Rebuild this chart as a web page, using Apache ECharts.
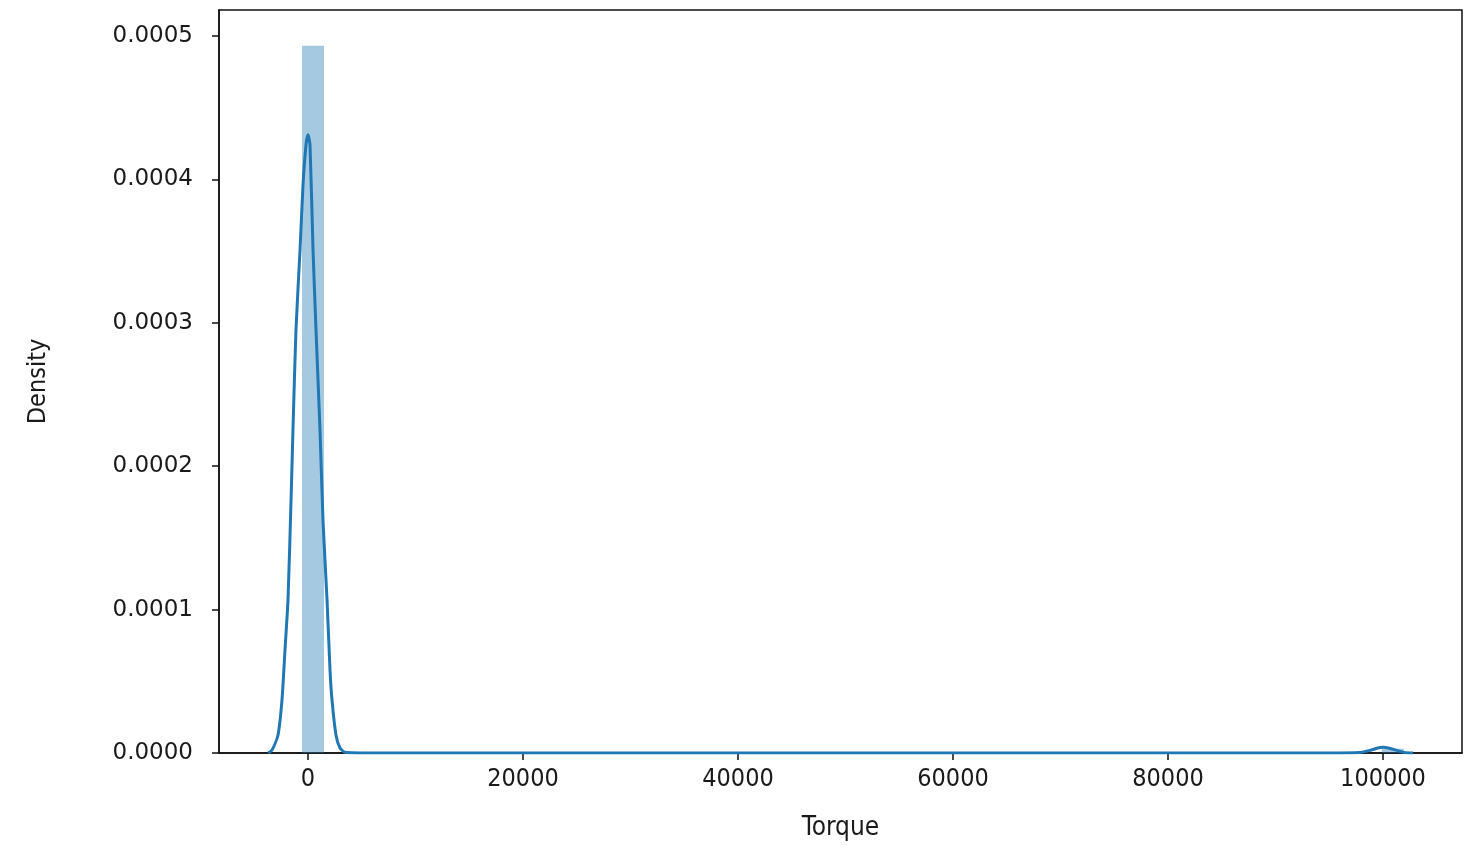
<!DOCTYPE html>
<html>
<head>
<meta charset="utf-8">
<title>Torque density</title>
<script src="https://cdn.jsdelivr.net/npm/echarts@6/dist/echarts.min.js"></script>
<style>
  html, body { margin: 0; padding: 0; background: #fff; }
  #chart { width: 1464px; height: 846px; }
</style>
</head>
<body>
<div id="chart"></div>
<script>
// histogram bins (only the non-empty ones)
const binStart = [-560, 99890];
const binEnd = [1490, 101940];
const binDensity = [0.000493, 0.000003];

// kde curve
const kdeX = [-3700, -3350, -2790, -2420, -2140, -1860, -1580, -1400, -1120, -740, -465, -186, 0,
    186, 465, 744, 1116, 1395, 1767, 2046, 2232, 2600, 2980, 3440, 6000,
    95000, 97800, 98800, 99500, 100000, 100500, 101300, 102000, 102800];
const kdeY = [0, 0.000002, 0.0000126, 0.000037, 0.000072, 0.000107, 0.000176, 0.000225, 0.000295, 0.000351, 0.000396, 0.000424, 0.000431,
    0.000424, 0.000351, 0.000295, 0.000225, 0.000162, 0.000107, 0.000058, 0.000037, 0.0000126, 0.0000035, 0.0000005, 0,
    0, 0.0000003, 0.0000018, 0.0000035, 0.000004, 0.0000035, 0.0000018, 0.0000004, 0];

// tick labels
const xTicks = [0, 20000, 40000, 60000, 80000, 100000];
const yTicks = [0, 0.0001, 0.0002, 0.0003, 0.0004, 0.0005];

let chart = echarts.init(document.getElementById("chart"));
let bins = [];
for (var i = 0; i < binStart.length; i++) {
    bins.push([binStart[i], binEnd[i], binDensity[i]]);
}
let kde = [];
for (var j = 0; j < kdeX.length; j++) {
    kde.push([kdeX[j], kdeY[j]]);
}
const narrow = "DejaVu Sans Condensed, Liberation Sans Narrow, Roboto";

chart.setOption({
    animation: false,
    grid: {
        left: 219,
        top: 10,
        right: 2,
        bottom: 93,
        show: true,
        borderColor: "#111",
        borderWidth: 1.5,
    },
    xAxis: {
        type: "value",
        min: -8280,
        max: 107350,
        name: "Torque",
        nameLocation: "middle",
        nameGap: 62,
        nameTextStyle: { color: "#1a1a1a", fontSize: 26, fontFamily: narrow },
        axisLine: { show: true, onZero: false, lineStyle: { color: "#111", width: 1.5 } },
        axisTick: { show: true, length: 7, customValues: xTicks, lineStyle: { color: "#111", width: 1.5 } },
        axisLabel: {
            customValues: xTicks,
            margin: 14,
            color: "#1a1a1a",
            fontSize: 25,
            fontFamily: narrow,
            formatter: function (v) { return String(v); },
        },
        splitLine: { show: false },
    },
    yAxis: {
        type: "value",
        min: 0,
        max: 0.000518,
        name: "Density",
        nameLocation: "middle",
        nameRotate: 90,
        nameGap: 168,
        nameTextStyle: { color: "#1a1a1a", fontSize: 25, fontFamily: narrow },
        axisLine: { show: true, onZero: false, lineStyle: { color: "#111", width: 1.5 } },
        axisTick: { show: true, length: 7, customValues: yTicks, lineStyle: { color: "#111", width: 1.5 } },
        axisLabel: {
            customValues: yTicks,
            margin: 26,
            color: "#1a1a1a",
            fontSize: 23,
            fontFamily: "DejaVu Sans",
            formatter: function (v) { return v.toFixed(4); },
        },
        splitLine: { show: false },
    },
    series: [
        {
            name: "hist",
            type: "custom",
            data: bins,
            encode: { x: [0, 1], y: 2 },
            renderItem: function (params, api) {
                let p0 = api.coord([api.value(0), api.value(2)]);
                let p1 = api.coord([api.value(1), 0]);
                return {
                    type: "rect",
                    shape: { x: p0[0], y: p0[1], width: p1[0] - p0[0], height: p1[1] - p0[1] },
                    style: { fill: "rgba(31, 119, 180, 0.4)" },
                };
            },
        },
        {
            name: "kde",
            type: "line",
            data: kde,
            smooth: 0.2,
            showSymbol: false,
            lineStyle: { color: "#1f77b4", width: 3 },
            z: 3,
        },
    ],
});
</script>
</body>
</html>
